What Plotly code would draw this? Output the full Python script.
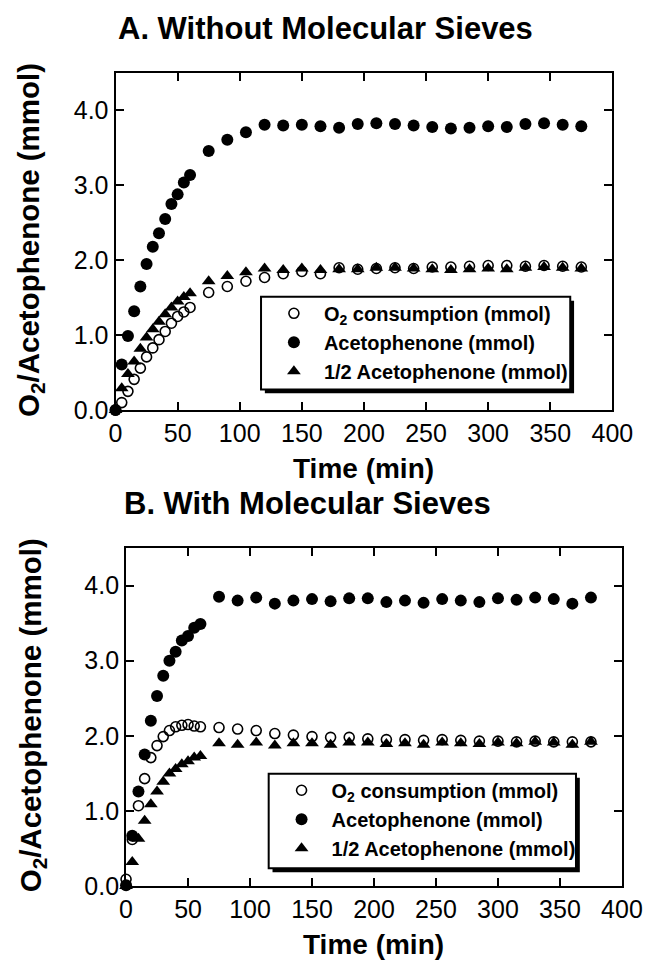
import plotly.graph_objects as go

W, H = 656, 964

time_min = [0, 5, 10, 15, 20, 25, 30, 35, 40, 45, 50, 55, 60,
            75, 90, 105, 120, 135, 150, 165, 180, 195, 210, 225, 240,
            255, 270, 285, 300, 315, 330, 345, 360, 375]

# Panel A: without molecular sieves
a_o2 = [0.00, 0.10, 0.25, 0.41, 0.56, 0.71, 0.83, 0.94, 1.05, 1.16, 1.25, 1.31, 1.37,
        1.57, 1.65, 1.72, 1.77, 1.82, 1.85, 1.82, 1.90, 1.88, 1.89, 1.90, 1.89,
        1.91, 1.91, 1.92, 1.93, 1.93, 1.92, 1.93, 1.92, 1.91]
a_aceto = [0.00, 0.61, 0.99, 1.32, 1.65, 1.95, 2.18, 2.36, 2.55, 2.75, 2.88, 3.04, 3.14,
           3.46, 3.61, 3.71, 3.81, 3.80, 3.81, 3.79, 3.77, 3.82, 3.83, 3.82, 3.80,
           3.78, 3.76, 3.77, 3.79, 3.78, 3.82, 3.83, 3.81, 3.79]
a_half = [0.00, 0.29, 0.48, 0.65, 0.82, 0.97, 1.08, 1.18, 1.28, 1.37, 1.45, 1.51, 1.56,
          1.72, 1.79, 1.84, 1.89, 1.87, 1.89, 1.87, 1.88, 1.88, 1.90, 1.90, 1.89,
          1.88, 1.87, 1.88, 1.89, 1.88, 1.90, 1.91, 1.90, 1.89]

# Panel B: with molecular sieves
b_o2 = [0.09, 0.62, 1.07, 1.43, 1.71, 1.87, 1.99, 2.07, 2.12, 2.14, 2.15, 2.13, 2.12,
        2.11, 2.09, 2.07, 2.03, 2.01, 1.99, 1.98, 1.98, 1.96, 1.95, 1.95, 1.94,
        1.95, 1.94, 1.93, 1.93, 1.92, 1.93, 1.92, 1.92, 1.92]
b_aceto = [0.01, 0.67, 1.26, 1.75, 2.20, 2.53, 2.80, 3.00, 3.12, 3.27, 3.33, 3.44, 3.49,
           3.85, 3.80, 3.84, 3.76, 3.80, 3.82, 3.79, 3.83, 3.83, 3.78, 3.80, 3.77,
           3.82, 3.80, 3.78, 3.83, 3.81, 3.84, 3.82, 3.76, 3.84]
b_half = [0.00, 0.32, 0.63, 0.87, 1.09, 1.26, 1.39, 1.50, 1.56, 1.62, 1.66, 1.71, 1.73,
          1.90, 1.88, 1.91, 1.87, 1.90, 1.90, 1.88, 1.91, 1.91, 1.89, 1.90, 1.88,
          1.91, 1.90, 1.89, 1.91, 1.90, 1.92, 1.91, 1.88, 1.92]

series_names = ["O<sub>2</sub> consumption (mmol)", "Acetophenone (mmol)",
                "1/2 Acetophenone (mmol)"]
panel_titles = ["A. Without Molecular Sieves", "B. With Molecular Sieves"]
x_title = "Time (min)"
y_title = "O<sub>2</sub>/Acetophenone (mmol)"
x_ticks = [0, 50, 100, 150, 200, 250, 300, 350, 400]
y_ticks = [0.0, 1.0, 2.0, 3.0, 4.0]

FONT = "Liberation Sans, Arial, Helvetica, sans-serif"

def px(x):
    return x / W

def py(y):
    return 1 - y / H

# plot-area pixel boxes [left, top, right, bottom]
boxA = [105, 66, 624, 408]
boxB = [116, 548, 634, 891]
legA = [257, 293, 580, 387]
legB = [265, 777, 586, 873]

fig = go.Figure()

panels = [
    ("x", "y", "legend", a_o2, a_aceto, a_half),
    ("x2", "y2", "legend2", b_o2, b_aceto, b_half),
]
for xa, ya, lg, o2, ac, hf in panels:
    fig.add_trace(go.Scatter(
        x=time_min, y=ac, mode="markers", name=series_names[1], xaxis=xa, yaxis=ya,
        legend=lg, legendrank=2, legendgroup=lg + "b", cliponaxis=False,
        marker=dict(symbol="circle", size=12, color="black", line=dict(width=0))))
    fig.add_trace(go.Scatter(
        x=time_min, y=hf, mode="markers", name=series_names[2], xaxis=xa, yaxis=ya,
        legend=lg, legendrank=3, legendgroup=lg + "c", cliponaxis=False,
        marker=dict(symbol="triangle-up", size=12, color="black", line=dict(width=0))))
    fig.add_trace(go.Scatter(
        x=time_min, y=o2, mode="markers", name=series_names[0], xaxis=xa, yaxis=ya,
        legend=lg, legendrank=1, legendgroup=lg + "a", cliponaxis=False,
        marker=dict(symbol="circle-open", size=10, color="black",
                    line=dict(width=1.6, color="black"))))

axis_common = dict(
    showline=True, linecolor="black", linewidth=2, mirror="ticks",
    ticks="inside", ticklen=8, tickwidth=1.5, tickcolor="black",
    showgrid=False, zeroline=False,
    tickfont=dict(family=FONT, size=25, color="black"),
)

for i, (box, lg) in enumerate([(boxA, legA), (boxB, legB)]):
    sfx = "" if i == 0 else str(i + 1)
    fig.update_layout(**{
        "xaxis" + sfx: dict(axis_common, domain=[px(box[0]), px(box[2])],
                            range=[0, 400], tickvals=x_ticks,
                            anchor="y" + sfx),
        "yaxis" + sfx: dict(axis_common, domain=[py(box[3]), py(box[1])],
                            range=[0, 4.5], tickvals=y_ticks, tickformat=".1f",
                            ticksuffix="\u00a0",
                            anchor="x" + sfx),
    })
    # legend shadow and box
    fig.add_shape(type="rect", xref="paper", yref="paper", layer="above",
                  x0=px(lg[0] + 4), x1=px(lg[2] + 4), y0=py(lg[3] + 4), y1=py(lg[1] + 4),
                  fillcolor="black", line=dict(width=0))
    fig.add_shape(type="rect", xref="paper", yref="paper", layer="above",
                  x0=px(lg[0]), x1=px(lg[2]), y0=py(lg[3]), y1=py(lg[1]),
                  fillcolor="white", line=dict(color="black", width=2))
    legname = "legend" + sfx
    fig.update_layout(**{legname: dict(
        x=px(lg[0] + 3), y=py(lg[1] - 3), xanchor="left", yanchor="top",
        bgcolor="rgba(0,0,0,0)", borderwidth=0, itemwidth=50,
        tracegroupgap=1, traceorder="normal",
        font=dict(family=FONT, size=20, color="black", weight="bold"),
    )})
    # panel title
    title_y = 21 if i == 0 else 503
    title_x = 105 if i == 0 else 112
    fig.add_annotation(text="<b>" + panel_titles[i] + "</b>", xref="paper", yref="paper",
                       x=px(title_x), y=py(title_y), xanchor="left", yanchor="middle",
                       showarrow=False, font=dict(family=FONT, size=31, color="black"))
    # axis titles
    fig.add_annotation(text="<b>" + x_title + "</b>", xref="paper", yref="paper",
                       x=px((box[0] + box[2]) / 2), y=py(box[3] + 59),
                       xanchor="center", yanchor="middle", showarrow=False,
                       font=dict(family=FONT, size=28, color="black"))
    fig.add_annotation(text="<b>" + y_title + "</b>", xref="paper", yref="paper",
                       x=px(16 if i == 0 else 18), y=py((box[1] + box[3]) / 2 - 2),
                       xanchor="center", yanchor="middle", textangle=-90,
                       showarrow=False, font=dict(family=FONT, size=29.5, color="black"))

fig.update_layout(
    width=W, height=H, autosize=False,
    margin=dict(l=0, r=0, t=0, b=0),
    paper_bgcolor="white", plot_bgcolor="white",
    showlegend=True,
)

fig.write_html("out.html")
